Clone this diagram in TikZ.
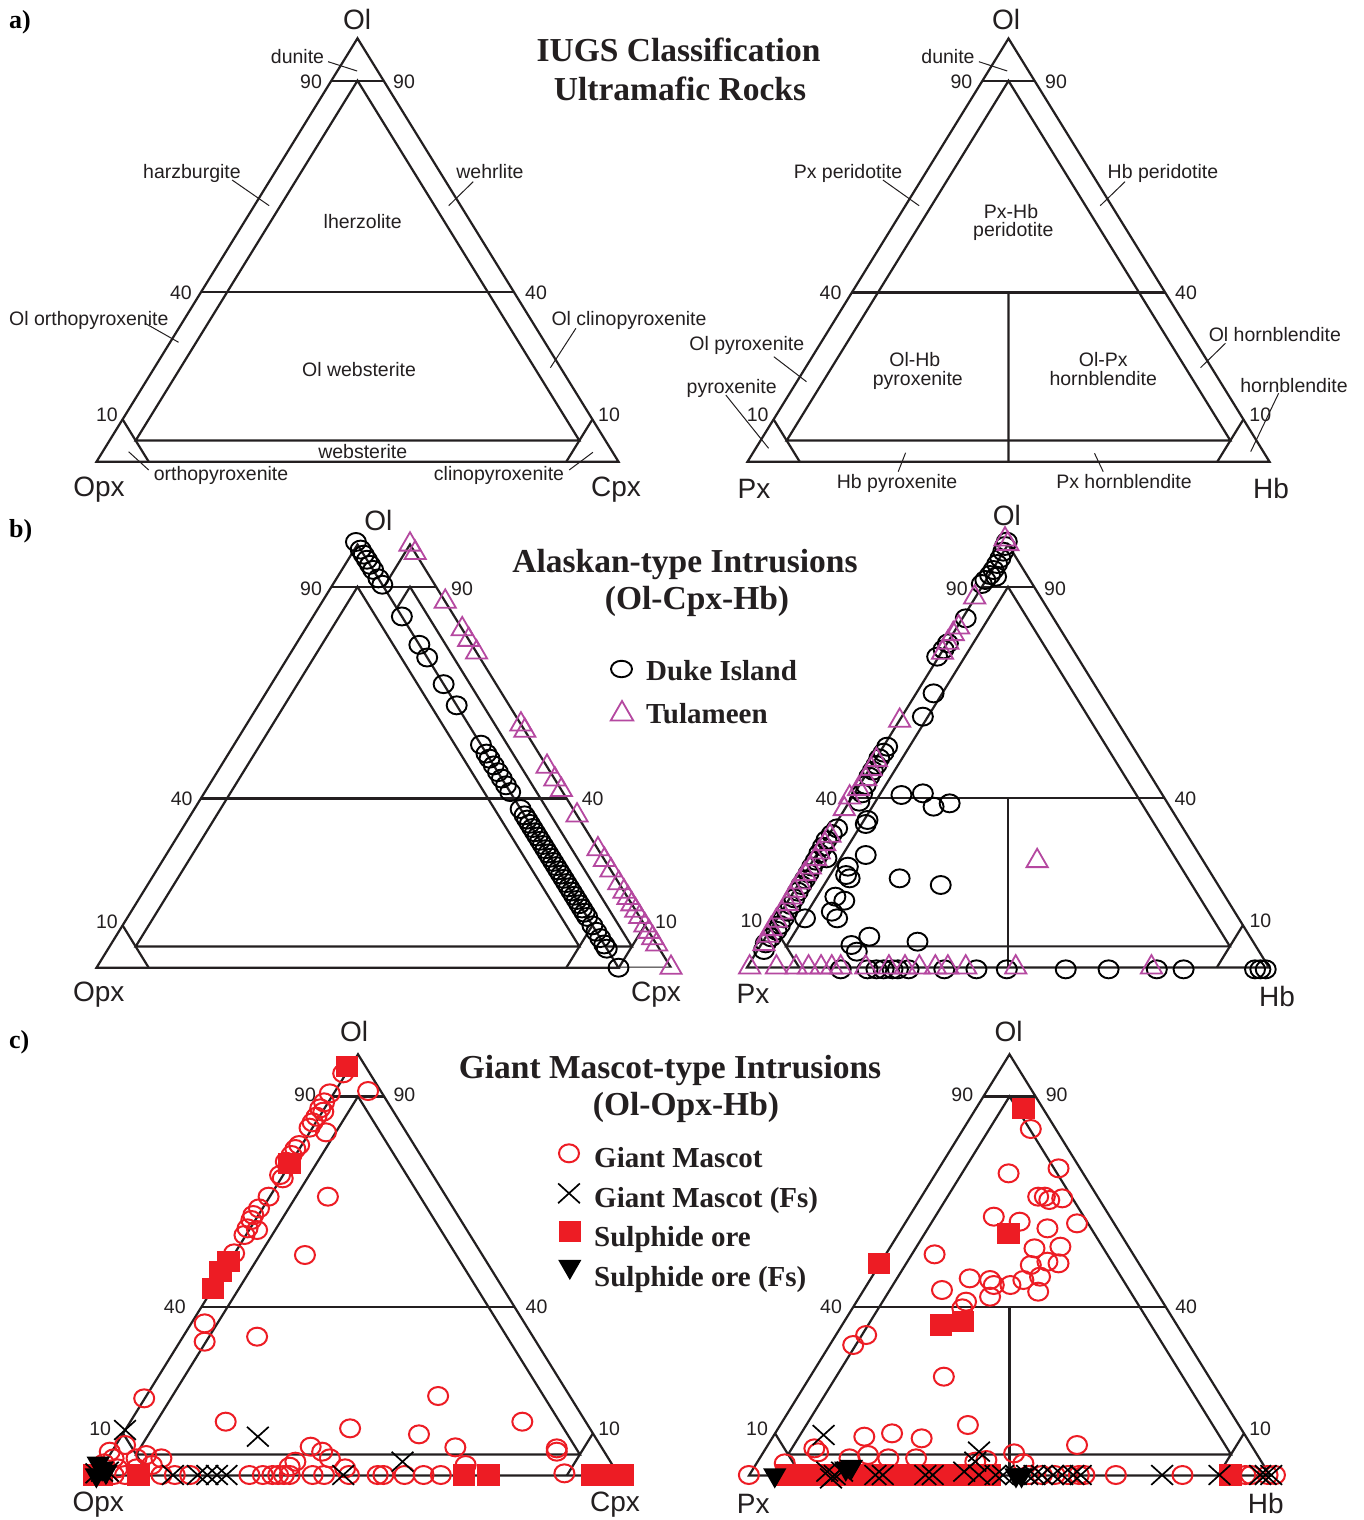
\documentclass[tikz,border=0pt]{standalone}
\usepackage{fontspec}
\setmainfont{Liberation Serif}
\setsansfont{Liberation Sans}
\usetikzlibrary{calc,shapes.geometric,shapes.misc}
\definecolor{lnc}{RGB}{35,31,32}
\definecolor{mag}{RGB}{181,72,160}
\definecolor{rd}{RGB}{237,28,36}
\tikzset{
 trline/.style={draw=lnc, line width=2.2pt},
 ldr/.style={draw=lnc, line width=1pt},
 lab/.style={font=\sffamily\fontsize{19.5}{22}\selectfont, text=lnc, inner sep=0pt, anchor=base},
 cornerlab/.style={font=\sffamily\fontsize{28}{30}\selectfont, text=lnc, inner sep=0pt, anchor=base},
 ttl/.style={font=\rmfamily\bfseries\fontsize{33.5}{38}\selectfont, text=lnc, inner sep=0pt, anchor=base},
 leg/.style={font=\rmfamily\bfseries\fontsize{29}{32}\selectfont, text=lnc, inner sep=0pt, anchor=base west},
 panel/.style={font=\rmfamily\bfseries\fontsize{26}{28}\selectfont, text=black, inner sep=0pt, anchor=base west},
 duke/.style={ellipse, draw=black, line width=1.9pt, minimum width=20pt, minimum height=18pt, inner sep=0pt},
 tula/.style={regular polygon, regular polygon sides=3, draw=mag, line width=1.8pt, minimum size=24.5pt, inner sep=0pt},
 gm/.style={ellipse, draw=rd, line width=2pt, minimum width=20pt, minimum height=18pt, inner sep=0pt},
 gmfs/.style={cross out, draw=black, line width=1.7pt, minimum width=20pt, minimum height=18pt, inner sep=0pt},
 sulf/.style={rectangle, fill=rd, minimum width=22.5pt, minimum height=21.5pt, inner sep=0pt},
 sulffs/.style={regular polygon, regular polygon sides=3, shape border rotate=180, fill=black, minimum size=27pt, inner sep=0pt},
}
\newcommand\ternframe[1]{%
 \coordinate (#1n90l) at (barycentric cs:#1A=0.9,#1B=0.1);
 \coordinate (#1n90r) at (barycentric cs:#1A=0.9,#1C=0.1);
 \coordinate (#1n40l) at (barycentric cs:#1A=0.4,#1B=0.6);
 \coordinate (#1n40r) at (barycentric cs:#1A=0.4,#1C=0.6);
 \coordinate (#1iA) at (barycentric cs:#1A=0.9,#1B=0.05,#1C=0.05);
 \coordinate (#1iB) at (barycentric cs:#1A=0.05,#1B=0.9,#1C=0.05);
 \coordinate (#1iC) at (barycentric cs:#1A=0.05,#1B=0.05,#1C=0.9);
 \coordinate (#1sBa) at (barycentric cs:#1A=0.1,#1B=0.9);
 \coordinate (#1sBb) at (barycentric cs:#1B=0.9,#1C=0.1);
 \coordinate (#1sCa) at (barycentric cs:#1A=0.1,#1C=0.9);
 \coordinate (#1sCb) at (barycentric cs:#1B=0.1,#1C=0.9);
 \draw[trline] (#1A) -- (#1B) -- (#1C) -- cycle;
 \draw[trline] (#1n90l) -- (#1n90r);
 \draw[trline] (#1n40l) -- (#1n40r);
 \draw[trline] (#1iA) -- (#1iB) -- (#1iC) -- cycle;
 \draw[trline] (#1sBa) -- (#1sBb);
 \draw[trline] (#1sCa) -- (#1sCb);
}
\newcommand\ternvert[1]{%
 \coordinate (#1v1) at (barycentric cs:#1A=0.4,#1B=0.3,#1C=0.3);
 \coordinate (#1v2) at (barycentric cs:#1B=0.5,#1C=0.5);
 \draw[trline] (#1v1) -- (#1v2);
}
\begin{document}
\begin{tikzpicture}[x=1pt,y=-1pt]
\useasboundingbox (0,0) rectangle (1364,1520);
\fill[white] (0,0) rectangle (1364,1520);

% ================= ROW A =================
\coordinate (taLA) at (357.5,38.3); \coordinate (taLB) at (96.5,461.7); \coordinate (taLC) at (618.5,461.7);
\coordinate (taRA) at (1008.5,38.5); \coordinate (taRB) at (747.5,461.7); \coordinate (taRC) at (1269.5,461.7);
\ternframe{taL}
\ternframe{taR}
\ternvert{taR}

\node[panel] (pa) at (9,29) {a)};
\node[ttl] (aT1) at (678.5,62) {IUGS Classification};
\node[ttl] (aT2) at (680,100) {Ultramafic Rocks};

% left labels
\node[cornerlab] (aLol) at (357,30) {Ol};
\node[cornerlab] (aLopx) at (99,496.7) {Opx};
\node[cornerlab] (aLcpx) at (616,496.7) {Cpx};
\node[lab] (aL90l) at (311,88.3) {90};
\node[lab] (aL90r) at (404,88.3) {90};
\node[lab] (aL40l) at (181,299) {40};
\node[lab] (aL40r) at (536,299) {40};
\node[lab] (aL10l) at (107,421.5) {10};
\node[lab] (aL10r) at (609,421.5) {10};
\node[lab] (aLdun) at (297.5,63.3) {dunite};
\node[lab] (aLhz) at (192,178) {harzburgite};
\node[lab] (aLwe) at (490,178) {wehrlite};
\node[lab] (aLlh) at (362.7,228) {lherzolite};
\node[lab] (aLoo) at (88.8,325) {Ol orthopyroxenite};
\node[lab] (aLoc) at (629,325) {Ol clinopyroxenite};
\node[lab] (aLow) at (359,376.5) {Ol websterite};
\node[lab] (aLws) at (362.7,458) {websterite};
\node[lab] (aLop) at (221,480) {orthopyroxenite};
\node[lab] (aLcp) at (499,480) {clinopyroxenite};
\coordinate (l1a) at (328.1,61.7); \coordinate (l1b) at (357.1,71);
\coordinate (l2a) at (232.1,180); \coordinate (l2b) at (269.2,205.7);
\coordinate (l3a) at (473.2,181.7); \coordinate (l3b) at (448.7,205.7);
\coordinate (l4a) at (145.1,323.3); \coordinate (l4b) at (178.6,342.3);
\coordinate (l5a) at (575.9,328.3); \coordinate (l5b) at (550.4,367.7);
\coordinate (l6a) at (148.7,470); \coordinate (l6b) at (128.6,451.7);
\coordinate (l7a) at (569.2,470); \coordinate (l7b) at (592.9,452.3);
\foreach \k in {1,...,7} \draw[ldr] (l\k a) -- (l\k b);

% right labels
\node[cornerlab] (aRol) at (1006,30) {Ol};
\node[cornerlab] (aRpx) at (754,498.3) {Px};
\node[cornerlab] (aRhb) at (1271,498.3) {Hb};
\node[lab] (aR90l) at (961.4,88.3) {90};
\node[lab] (aR90r) at (1056,88.3) {90};
\node[lab] (aR40l) at (830.5,299) {40};
\node[lab] (aR40r) at (1186,299) {40};
\node[lab] (aR10l) at (757.7,421.5) {10};
\node[lab] (aR10r) at (1260.3,421.5) {10};
\node[lab] (aRdun) at (948,63.3) {dunite};
\node[lab] (aRpp) at (848,178.3) {Px peridotite};
\node[lab] (aRhp) at (1163,178.3) {Hb peridotite};
\node[lab] (aRphp1) at (1011,218.3) {Px-Hb};
\node[lab] (aRphp2) at (1013.3,236.7) {peridotite};
\node[lab] (aRop) at (746.8,350.5) {Ol pyroxenite};
\node[lab] (aRpy) at (731.7,393) {pyroxenite};
\node[lab] (aRohp1) at (914.8,366.7) {Ol-Hb};
\node[lab] (aRohp2) at (917.8,385) {pyroxenite};
\node[lab] (aRoph1) at (1103.2,366.7) {Ol-Px};
\node[lab] (aRoph2) at (1103.2,385) {hornblendite};
\node[lab] (aRoh) at (1274.9,341.7) {Ol hornblendite};
\node[lab] (aRhb2) at (1294,392.7) {hornblendite};
\node[lab] (aRhpx) at (897,488) {Hb pyroxenite};
\node[lab] (aRpxh) at (1124,488) {Px hornblendite};
\coordinate (r1a) at (978.9,61.7); \coordinate (r1b) at (1007.2,71);
\coordinate (r2a) at (882.9,180); \coordinate (r2b) at (919.1,205.7);
\coordinate (r3a) at (1125,181.7); \coordinate (r3b) at (1100.2,205.7);
\coordinate (r4a) at (773.8,356.7); \coordinate (r4b) at (806.5,381.7);
\coordinate (r5a) at (725.8,395); \coordinate (r5b) at (768.6,448.3);
\coordinate (r6a) at (1225.4,343.3); \coordinate (r6b) at (1200.5,367.7);
\coordinate (r7a) at (1278.6,393.3); \coordinate (r7b) at (1250.7,451.7);
\coordinate (r8a) at (898.2,471.7); \coordinate (r8b) at (905.6,452.7);
\coordinate (r9a) at (1103.2,471.7); \coordinate (r9b) at (1094.5,453.3);
\foreach \k in {1,...,9} \draw[ldr] (r\k a) -- (r\k b);

% ================= ROW B =================
\coordinate (tbLA) at (357.5,544.5); \coordinate (tbLB) at (96.5,967.7); \coordinate (tbLC) at (618.5,967.7);
\coordinate (tbMA) at (410,544.5); \coordinate (tbMB) at (149,967.7); \coordinate (tbMC) at (671,967.7);
\ternframe{tbL}
\begin{scope}
 \clip (tbLA) -- (tbLC) -- ($(tbLC)+(120,0)$) -- ($(tbLA)+(150,-30)$) -- ($(tbLA)+(0,-30)$) -- cycle;
 \ternframe{tbM}
\end{scope}
\coordinate (tbRA) at (1008,544.5); \coordinate (tbRB) at (747,967.5); \coordinate (tbRC) at (1269,967.5);
\ternframe{tbR}
\ternvert{tbR}

\node[panel] (pb) at (9,537) {b)};
\node[ttl] (bT1) at (685,572) {Alaskan-type Intrusions};
\node[ttl] (bT2) at (697,609) {(Ol-Cpx-Hb)};
\node[duke, minimum width=21pt, minimum height=16.5pt] (bLg1) at (621.5,669) {};
\node[leg] (bLt1) at (646,680) {Duke Island};
\node[tula, minimum size=26pt] (bLg2) at (622,714) {};
\node[leg] (bLt2) at (646,723) {Tulameen};

\node[cornerlab] (bLol) at (378.4,530) {Ol};
\node[cornerlab] (bLopx) at (98.8,1001.7) {Opx};
\node[cornerlab] (bLcpx) at (656,1001.7) {Cpx};
\node[lab] (bL90l) at (311,595) {90};
\node[lab] (bL90r) at (462,595) {90};
\node[lab] (bL40l) at (181.6,805.5) {40};
\node[lab] (bL40r) at (592.6,805.5) {40};
\node[lab] (bL10l) at (107,928) {10};
\node[lab] (bL10r) at (666,928) {10};

\node[cornerlab] (bRol) at (1006.8,525) {Ol};
\node[cornerlab] (bRpx) at (753,1003.5) {Px};
\node[cornerlab] (bRhb) at (1277,1006) {Hb};
\node[lab] (bR90l) at (956.8,595) {90};
\node[lab] (bR90r) at (1055,595) {90};
\node[lab] (bR40l) at (826.4,805) {40};
\node[lab] (bR40r) at (1185.4,805) {40};
\node[lab] (bR10l) at (751.4,927) {10};
\node[lab] (bR10r) at (1260.4,927) {10};

% row b left data
\foreach \t [count=\i] in {-0.006,0.012,0.024,0.036,0.048,0.06,0.08,0.095,0.17,0.237,0.267,0.33,0.38,0.473,0.494,0.506,0.522,0.538,0.553,0.569,0.585,0.625,0.64,0.65,0.66,0.67,0.68,0.69,0.70,0.71,0.72,0.73,0.74,0.75,0.76,0.77,0.78,0.79,0.80,0.81,0.82,0.83,0.84,0.85,0.86,0.87,0.88,0.9,0.915,0.93,0.945,0.955,1.0}
 \node[duke] (bLd\i) at ($(tbLA)!\t!(tbLC)$) {};
\foreach \t [count=\i] in {0.0,0.02,0.135,0.2,0.225,0.255,0.425,0.44,0.525,0.555,0.58,0.64,0.72,0.745,0.77,0.8,0.82,0.835,0.85,0.865,0.88,0.9,0.915,0.93,0.945,1.0}
 \node[tula] (bLt\i) at ($(tbMA)!\t!(tbMC)$) {};

% row b right data
\begin{scope}[shift={(730,510)},xscale=0.357143,yscale=0.333333]
\foreach \x/\y [count=\i] in {775/95,770/108,765/125,757/145,748/162,738/180,728/195,715/210,745/200,705/222,660/325,610/400,598/418,580/440,570/550,540/620,440/710,430/728,418/745,410/765,400/782,390/800,380/825,370/850,362/875,385/930,380/942,300/955,285/972,270/990,260/1010,250/1030,270/1045,240/1052,230/1070,220/1090,210/1108,200/1125,190/1145,180/1165,170/1185,160/1205,150/1225,140/1245,130/1262,115/1282,100/1300,95/1320,480/855,540/850,570/890,615/880,380/1035,330/1070,325/1095,335/1105,475/1105,590/1125,295/1160,320/1172,285/1205,300/1225,210/1225,390/1280,525/1295,340/1305,355/1325,310/1378,385/1378,410/1378,430/1378,455/1378,470/1378,500/1378,600/1378,690/1378,775/1378,940/1378,1060/1378,1195/1378,1270/1378,1470/1378,1485/1378,1500/1378}
 \node[duke] (bRd\i) at (\x,\y) {};
\foreach \x/\y [count=\i] in {770/88,778/102,685/262,640/352,625/372,610/398,595/428,475/632,410/750,395/777,380/807,360/837,335/862,320/897,280/977,265/1002,250/1027,240/1047,225/1072,210/1092,195/1117,180/1142,170/1162,160/1182,145/1207,130/1232,115/1257,105/1277,95/1302,860/1053,55/1372,130/1372,185/1372,220/1372,255/1372,285/1372,310/1372,380/1372,445/1372,490/1372,530/1372,575/1372,610/1372,660/1372,800/1372,1180/1372}
 \node[tula] (bRt\i) at (\x,\y) {};
\end{scope}

% ================= ROW C =================
\coordinate (tcLA) at (358,1054.3); \coordinate (tcLB) at (97,1475.5); \coordinate (tcLC) at (619,1475.5);
\coordinate (tcRA) at (1009.5,1054.3); \coordinate (tcRB) at (749,1475.5); \coordinate (tcRC) at (1270,1475.5);
\ternframe{tcL}
\ternframe{tcR}
\ternvert{tcR}

\node[panel] (pc) at (9,1048) {c)};
\node[ttl] (cT1) at (670,1078) {Giant Mascot-type Intrusions};
\node[ttl] (cT2) at (686,1115) {(Ol-Opx-Hb)};
\node[gm] (cLg1) at (569,1153.3) {};
\node[leg] (cLt1) at (594,1167) {Giant Mascot};
\node[gmfs] (cLg2) at (569,1193.3) {};
\node[leg] (cLt2) at (594,1207) {Giant Mascot (Fs)};
\node[sulf] (cLg3) at (569.8,1231.7) {};
\node[leg] (cLt3) at (594,1246) {Sulphide ore};
\node[sulffs] (cLg4) at (569.8,1266.5) {};
\node[leg] (cLt4) at (594,1286) {Sulphide ore (Fs)};

\node[cornerlab] (cLol) at (354,1041.5) {Ol};
\node[cornerlab] (cLopx) at (98.3,1511.7) {Opx};
\node[cornerlab] (cLcpx) at (615,1511.7) {Cpx};
\node[lab] (cL90l) at (305,1101.7) {90};
\node[lab] (cL90r) at (404.4,1101.7) {90};
\node[lab] (cL40l) at (174.8,1313.3) {40};
\node[lab] (cL40r) at (536.5,1313.3) {40};
\node[lab] (cL10l) at (100.2,1435) {10};
\node[lab] (cL10r) at (609.2,1435) {10};

\node[cornerlab] (cRol) at (1008.6,1041.5) {Ol};
\node[cornerlab] (cRpx) at (753.3,1513.3) {Px};
\node[cornerlab] (cRhb) at (1265.7,1513.3) {Hb};
\node[lab] (cR90l) at (962.3,1101.7) {90};
\node[lab] (cR90r) at (1056.7,1101.7) {90};
\node[lab] (cR40l) at (831,1313.3) {40};
\node[lab] (cR40r) at (1186.2,1313.3) {40};
\node[lab] (cR10l) at (757,1435) {10};
\node[lab] (cR10r) at (1260.1,1435) {10};

% row c left data
\begin{scope}[shift={(60,1015)},xscale=0.382702,yscale=0.333333]
\foreach \x/\y [count=\i] in {750/155,600/445,440/740,420/770,400/820,205/1380,1055/1380,1120/1380,1390/1380,1420/1380,1450/1380,1470/1380,90/1380,110/1380}
 \node[sulf] (cLs\i) at (\x,\y) {};
\foreach \x/\y [count=\i] in {740/175,705/235,690/262,680/280,688/290,670/305,660/322,652/338,695/352,625/390,615/402,605/420,590/440,575/480,582/490,545/545,520/580,505/600,500/615,490/640,482/660,515/645,455/715,805/228,700/545,640/720,378/925,378/980,515/965,220/1150,433/1220,758/1240,938/1258,988/1143,1208/1220,1033/1297,1298/1300,1298/1310,655/1295,685/1310,705/1330,615/1340,600/1355,1060/1350,1318/1375,130/1310,170/1290,140/1330,200/1330,225/1320,265/1330,240/1350,150/1360,200/1360,115/1345,140/1380,170/1380,265/1380,300/1380,340/1380,495/1380,530/1380,555/1380,570/1380,585/1380,600/1380,660/1380,690/1380,745/1360,755/1380,830/1380,845/1380,900/1380,950/1380,995/1380}
 \node[gm] (cLc\i) at (\x,\y) {};
\foreach \x/\y [count=\i] in {170/1245,517/1265,895/1340,295/1380,360/1380,385/1380,410/1380,435/1380,740/1380,95/1375,110/1370,125/1370}
 \node[gmfs] (cLx\i) at (\x,\y) {};
\foreach \x/\y [count=\i] in {100/1345,110/1360,95/1380,120/1370}
 \node[sulffs] (cLv\i) at (\x,\y) {};
\end{scope}

% row c right data
\begin{scope}[shift={(720,1015)},xscale=0.369959,yscale=0.333333]
\foreach \x/\y [count=\i] in {820/280,430/745,780/655,597/930,657/920,1380/1380,180/1380,205/1380,230/1380,255/1380,280/1380,305/1380,330/1380,355/1380,380/1380,405/1380,430/1380,455/1380,480/1380,505/1380,530/1380,555/1380,580/1380,605/1380,630/1380,655/1380,680/1380,705/1380,730/1380}
 \node[sulf] (cRs\i) at (\x,\y) {};
\foreach \x/\y [count=\i] in {840/342,915/460,780/475,860/545,878/545,890/555,925/550,965/625,740/605,810/620,885/640,850/700,920/695,580/718,885/740,915/745,840/750,675/790,730/795,820/795,865/785,785/810,600/825,740/810,730/845,860/830,665/860,655/880,395/960,360/990,605/1085,670/1230,965/1290,390/1265,465/1255,545/1270,255/1300,265/1312,400/1320,455/1330,530/1330,350/1330,175/1345,690/1340,720/1335,795/1315,820/1345,78/1380,1070/1380,1250/1380,1420/1380,1435/1380,1480/1380,1500/1380,835/1380,870/1380,905/1380,940/1380,970/1380,985/1380}
 \node[gm] (cRc\i) at (\x,\y) {};
\foreach \x/\y [count=\i] in {280/1260,700/1310,690/1340,290/1370,310/1380,330/1370,300/1390,420/1380,440/1380,555/1380,575/1380,660/1370,700/1380,745/1380,765/1380,800/1380,830/1380,850/1380,870/1380,900/1380,925/1380,955/1380,975/1380,1195/1380,1350/1380,1460/1380,1475/1380,1490/1380}
 \node[gmfs] (cRx\i) at (\x,\y) {};
\foreach \x/\y [count=\i] in {148/1380,340/1360,355/1355,800/1380,815/1380}
 \node[sulffs] (cRv\i) at (\x,\y) {};
\end{scope}

\end{tikzpicture}
\end{document}
